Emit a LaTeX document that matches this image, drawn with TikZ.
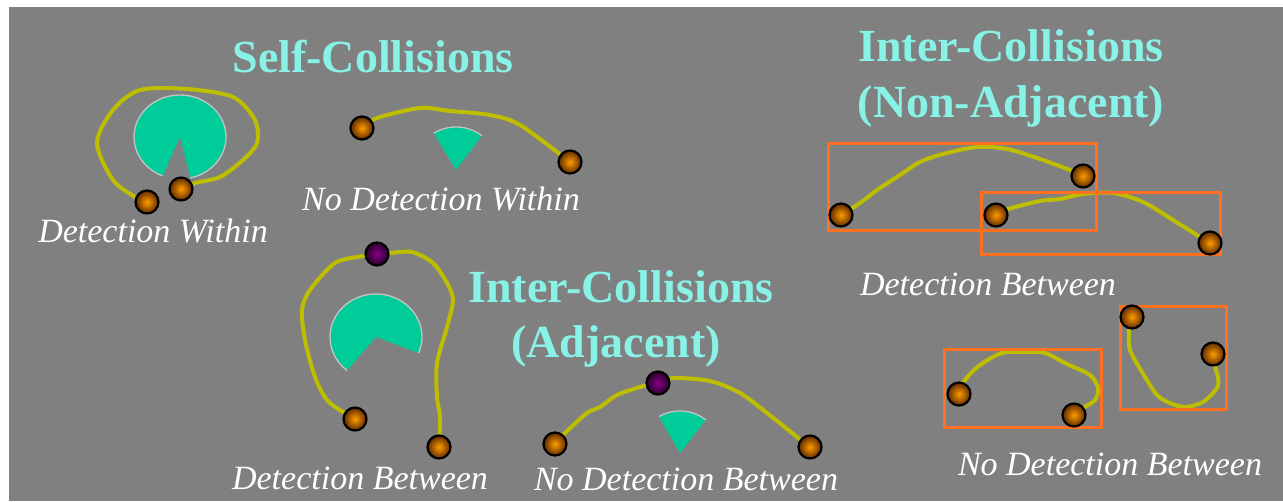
\documentclass[tikz,border=0pt]{standalone}
\usepackage{fontspec}
\setmainfont{Liberation Serif}
\definecolor{panel}{RGB}{128,128,128}
\definecolor{headcol}{RGB}{136,242,230}
\definecolor{piefill}{RGB}{0,204,153}
\definecolor{rimgray}{RGB}{196,196,196}
\definecolor{wirecol}{RGB}{190,190,0}
\definecolor{boxcol}{RGB}{255,112,32}
\definecolor{ballin}{RGB}{255,155,0}
\definecolor{ballout}{RGB}{95,42,0}
\definecolor{jointin}{RGB}{135,0,135}
\definecolor{jointout}{RGB}{40,0,40}
\tikzset{
  ball/.style={circle, draw=black, line width=2.2pt, minimum size=23pt, inner sep=0pt,
    inner color=ballin, outer color=ballout},
  joint/.style={ball, inner color=jointin, outer color=jointout},
  wire/.style={draw=wirecol, line width=4pt, line cap=round, line join=round},
  pie/.style={fill=piefill},
  rim/.style={draw=rimgray, line width=1.3pt},
  bbox/.style={draw=boxcol, line width=3pt},
  heading/.style={text=headcol, font=\bfseries\fontsize{46}{55}\selectfont, inner sep=0pt, anchor=base},
  caption/.style={text=white, font=\itshape\fontsize{34}{40}\selectfont, inner sep=0pt, anchor=base},
}
\begin{document}
\begin{tikzpicture}[x=1pt,y=-1pt]
\useasboundingbox (0,0) rectangle (1283,501);
\fill[white] (0,0) rectangle (1283,501);
\fill[panel] (8.5,6.7) rectangle (1283,501);

% segment end points
\coordinate (a1) at (147,202);  \coordinate (a2) at (181,189);
\coordinate (b1) at (362,128);  \coordinate (b2) at (570,162);
\coordinate (c1) at (355,419);  \coordinate (cm) at (377,254); \coordinate (c2) at (439,447);
\coordinate (d1) at (555,444);  \coordinate (dm) at (658,383); \coordinate (d2) at (810,447);
\coordinate (e1) at (841,215);  \coordinate (e2) at (1083,176);
\coordinate (f1) at (996,215);  \coordinate (f2) at (1210,243);
\coordinate (g1) at (959,394);  \coordinate (g2) at (1074,415);
\coordinate (h1) at (1132,317); \coordinate (h2) at (1213,354);

% normal cones
\coordinate (p1) at (180,137);
\fill[pie] (p1) -- +(283:46pt and 42pt) arc[start angle=283, end angle=608, x radius=46pt, y radius=42pt] -- cycle;
\draw[rim] (p1) +(283:46pt and 42pt) arc[start angle=283, end angle=608, x radius=46pt, y radius=42pt];

\coordinate (p2) at (376,337);
\fill[pie] (p2) -- +(338:46pt and 43pt) arc[start angle=338, end angle=591, x radius=46pt, y radius=43pt] -- cycle;
\draw[rim] (p2) +(338:46pt and 43pt) arc[start angle=338, end angle=591, x radius=46pt, y radius=43pt];

\coordinate (p3) at (456,170);
\fill[pie] (p3) -- +(53:43pt) arc[start angle=53, end angle=121, radius=43pt] -- cycle;
\draw[rim] (p3) +(53:43pt) arc[start angle=53, end angle=121, radius=43pt];

\coordinate (p4) at (680,453);
\fill[pie] (p4) -- +(52:42pt) arc[start angle=52, end angle=120, radius=42pt] -- cycle;
\draw[rim] (p4) +(52:42pt) arc[start angle=52, end angle=120, radius=42pt];

% curve segments
\draw[wire] plot[smooth, tension=0.5] coordinates {(a1) (135,197) (113,180) (97,143) (113,110) (140,90) (187,89) (233,97) (255,120) (257,143) (243,160) (220,177) (195,183) (a2)};
\draw[wire] plot[smooth, tension=0.5] coordinates {(b1) (377,118) (420,108) (450,111) (490,115) (520,125) (b2)};
\draw[wire] plot[smooth, tension=0.5] coordinates {(c1) (343,412) (327,400) (315,377) (305,340) (302,310) (310,290) (335,263) (363,256) (cm) (390,253) (412,252) (433,263) (447,283) (453,300) (447,327) (437,363) (437,397) (440,417) (c2)};
\draw[wire] plot[smooth, tension=0.5] coordinates {(d1) (565,433) (587,413) (600,407) (617,395) (640,387) (dm) (673,378) (710,381) (740,393) (767,413) (797,437) (d2)};
\draw[wire] plot[smooth, tension=0.5] coordinates {(e1) (860,203) (877,190) (900,175) (920,162) (943,154) (977,147) (1007,149) (1037,158) (1070,170) (e2)};
\draw[wire] plot[smooth, tension=0.5] coordinates {(f1) (1008,209) (1040,201) (1060,199) (1083,194) (1113,193) (1143,202) (1173,220) (1200,237) (f2)};
\draw[wire] plot[smooth, tension=0.5] coordinates {(g1) (965,380) (980,365) (1002,353) (1027,352) (1045,353) (1067,364) (1090,375) (1098,388) (1095,400) (1083,408) (g2)};
\draw[wire] plot[smooth, tension=0.5] coordinates {(h1) (1129,330) (1130,350) (1142,372) (1157,395) (1170,403) (1185,407) (1203,402) (1217,388) (1218,377) (1215,367) (h2)};

% bounding boxes
\draw[bbox] (828,143) rectangle (1096,230);
\draw[bbox] (981,192) rectangle (1220,254);
\draw[bbox] (944,349) rectangle (1101,427);
\draw[bbox] (1120,306) rectangle (1226,409);

% end points and joints
\foreach \n in {a1,a2,b1,b2,c1,c2,d1,d2,e1,e2,f1,f2,g1,g2,h1,h2}
  \node[ball] (n\n) at (\n) {};
\node[joint] (ncm) at (cm) {};
\node[joint] (ndm) at (dm) {};

% headings
\node[heading] (h-self) at (373,72) {Self-Collisions};
\node[heading] (h-adj1) at (621,302) {Inter-Collisions};
\node[heading] (h-adj2) at (616,357) {(Adjacent)};
\node[heading] (h-non1) at (1011,61) {Inter-Collisions};
\node[heading] (h-non2) at (1011,117) {(Non-Adjacent)};

% captions
\node[caption] (l1) at (153,242) {Detection Within};
\node[caption] (l2) at (441,210) {No Detection Within};
\node[caption] (l3) at (360,489) {Detection Between};
\node[caption] (l4) at (686,490) {No Detection Between};
\node[caption] (l5) at (988,295) {Detection Between};
\node[caption] (l6) at (1110,475) {No Detection Between};
\end{tikzpicture}
\end{document}
